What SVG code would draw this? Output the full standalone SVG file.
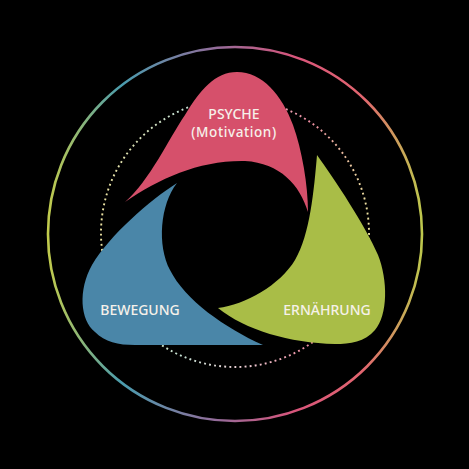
<svg xmlns="http://www.w3.org/2000/svg" width="469" height="469" viewBox="0 0 469 469">
  <defs>
    <linearGradient id="ring" gradientUnits="userSpaceOnUse" x1="46" y1="0" x2="424" y2="0">
      <stop offset="0" stop-color="#c4cc4a"/>
      <stop offset="0.2" stop-color="#4a9cae"/>
      <stop offset="0.45" stop-color="#946c9a"/>
      <stop offset="0.66" stop-color="#d9557b"/>
      <stop offset="0.84" stop-color="#e2666f"/>
      <stop offset="1" stop-color="#bccb4c"/>
    </linearGradient>
    <linearGradient id="dots" gradientUnits="userSpaceOnUse" x1="100" y1="0" x2="369" y2="0">
      <stop offset="0" stop-color="#ece2a0"/>
      <stop offset="0.3" stop-color="#c4e0d2"/>
      <stop offset="0.55" stop-color="#f0ccd4"/>
      <stop offset="0.78" stop-color="#ec8ca0"/>
      <stop offset="1" stop-color="#ece2a0"/>
    </linearGradient>
    <style>
      .lbl { font-family: "Noto Sans", "Open Sans", "Liberation Sans", sans-serif; font-weight: 500; font-size: 14px; fill: #f6f1ea; text-anchor: middle; }
      .sub { font-size: 13.5px; letter-spacing: 0.6px; }
    </style>
  </defs>
  <rect width="469" height="469" fill="#000"/>
  <g id="rings">
    <circle cx="235" cy="234" r="187" fill="none" stroke="url(#ring)" stroke-width="2.6"/>
    <circle cx="235" cy="233" r="134" fill="none" stroke="url(#dots)" stroke-width="1.9" stroke-dasharray="1.9 3.2"/>
  </g>
  <g id="psyche">
    <path fill="#d6506b" d="M125,202 C150,180 168,140 185,115 C200,90 215,72 237,72 C262,72 282,95 293,125 C302,150 308,185 308,212 C300,185 280,163 245,161 C200,160 160,178 125,202 Z"/>
    <text class="lbl" x="234" y="118.5">PSYCHE</text>
    <text class="lbl sub" x="234" y="137">(Motivation)</text>
  </g>
  <g id="bewegung">
    <path fill="#4a86a8" d="M177,183 C150,200 110,235 92,265 C78,290 80,320 95,332 C105,342 118,345 135,345 L263,345 C225,328 185,300 170,270 C157,245 160,205 177,183 Z"/>
    <text class="lbl" x="140" y="315">BEWEGUNG</text>
  </g>
  <g id="ernaehrung">
    <path fill="#a9bd47" d="M317,155 C335,180 365,225 378,255 C388,280 388,315 375,330 C365,342 350,344 335,344 C290,343 245,330 218,308 C245,305 280,285 295,260 C310,235 314,190 317,155 Z"/>
    <text class="lbl" x="327" y="315">ERNÄHRUNG</text>
  </g>
</svg>
